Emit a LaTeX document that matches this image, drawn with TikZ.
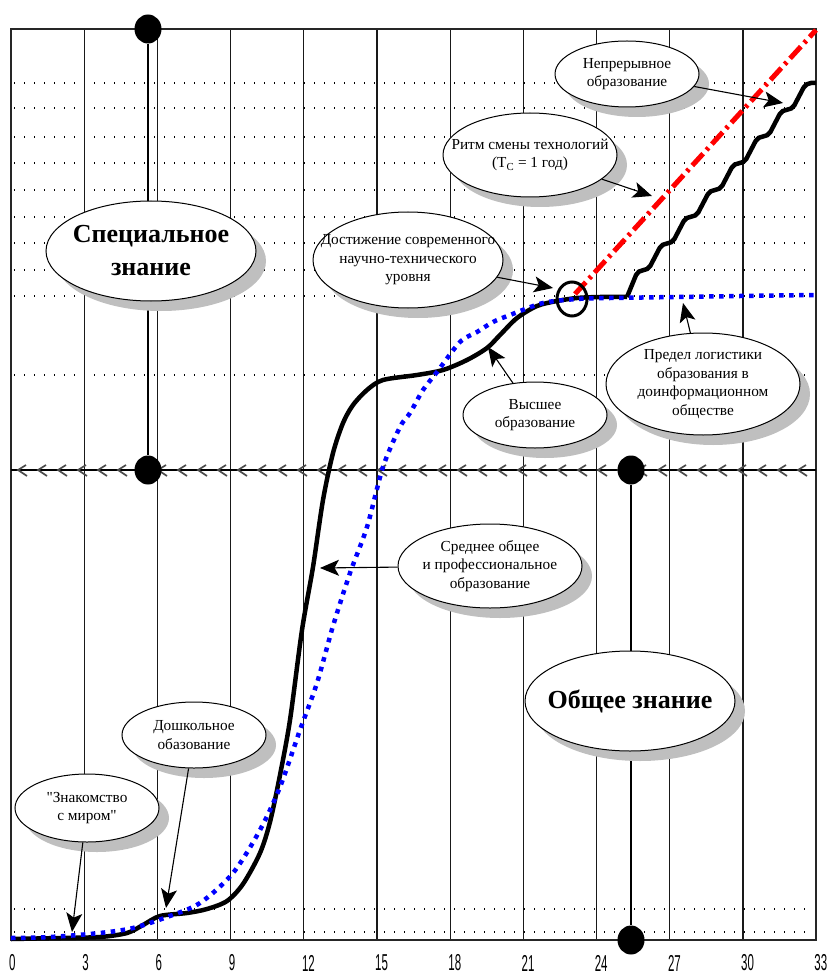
\documentclass[tikz,border=0pt]{standalone}
\usepackage{fontspec}
\setmainfont{Liberation Serif}
\newfontfamily\axisfont[FakeStretch=0.5]{Liberation Sans}
\usetikzlibrary{shapes.geometric,shadows,arrows.meta}

\tikzset{
  gridline/.style={line width=1.3pt, black!90},
  dotline/.style={line width=1.2pt, dash pattern=on 1.2pt off 8.8pt},
  bubble/.style={ellipse, draw, line width=1pt, fill=white, inner sep=0pt,
    drop shadow={shadow xshift=10pt, shadow yshift=-10pt, opacity=1, fill=black!25}},
  note/.style={font=\fontsize{15.3}{18.5}\selectfont, align=center, inner sep=0pt},
  big/.style={font=\fontsize{26}{33}\selectfont\bfseries, align=center, inner sep=0pt},
  pointer/.style={-{Stealth[length=19pt,width=16pt,inset=4.5pt]}, line width=1.1pt},
  blob/.style={ellipse, fill=black, inner sep=0pt, minimum width=27pt, minimum height=29pt},
  ticklabel/.style={font=\axisfont\fontsize{23}{23}\selectfont, anchor=west, inner sep=0pt}
}

\begin{document}
\begin{tikzpicture}[x=1pt,y=-1pt]
  \useasboundingbox (0,0) rectangle (829,976);

  \foreach \y in {83,108,137,163,190,217,243,270,296,375,909,932}
    \draw[dotline] (14,\y) -- (810,\y);
  \foreach \t in {3,6,...,30}
    \draw[gridline] ({11+24.4*\t},29) -- ({11+24.4*\t},940);
  \draw[line width=1.6pt, black!85] (11,29) rectangle (816,940);
  \foreach \t in {0,3,...,33}
    \node[ticklabel] at ({9+24.4*\t},963) {\t};

  \draw[line width=1.2pt] (11,470) -- (816,470);
  \foreach \k in {0,...,39}
    \draw[line width=1.7pt, black!70] ({26+20*\k},465) -- ({18+20*\k},470) -- ({27+20*\k},476);

  \draw[line width=4.5pt, line join=round] plot[smooth] coordinates {
    (11,939) (60,938) (100,937) (127,933) (143,925) (160,916) (187,913)
    (207,909) (227,901) (243,884) (260,853) (270,822) (280,775) (290,720)
    (302,630) (313,567) (323,500) (333,453) (343,423) (353,405) (367,390)
    (383,380) (417,375) (443,370) (467,360) (487,348) (500,335) (517,318)
    (537,306) (557,301) (577,298) (600,297) (627,297)};
  \draw[line width=4.5pt, rounded corners=5pt] (627,297)
    foreach \k in {1,...,8} { -- ({614+24*\k},{297-26.75*\k}) -- ({624+24*\k},{297-26.75*\k}) };
  \draw[blue, line width=4.5pt, dash pattern=on 4.5pt off 5.5pt] plot[smooth] coordinates {
    (11,938) (50,937) (100,933) (133,928) (167,917) (200,903) (233,873)
    (260,830) (280,787) (300,730) (317,683) (333,626) (350,573) (367,527)
    (383,467) (400,427) (410,413) (423,390) (437,372) (460,342) (477,332)
    (493,322) (510,315) (543,303) (577,299) (610,298) (677,297) (740,296) (815,295)};
  \draw[red, line width=5pt, dash pattern=on 16pt off 5pt on 3pt off 5pt] (575,294) -- (816,30);
  \node[draw, ellipse, line width=3pt, minimum width=30pt, minimum height=34pt, inner sep=0pt] (reach) at (572,299) {};

  \node[blob] (spectop) at (148,29) {};
  \node[blob] (specbot) at (148,470) {};
  \node[blob] (gentop) at (631,470) {};
  \node[blob] (genbot) at (631,940) {};
  \draw[line width=1.2pt] (spectop) -- (specbot);
  \draw[line width=1.2pt] (gentop) -- (genbot);

  \node[bubble, minimum width=210pt, minimum height=100pt,
    label={[big]center:{Специальное\\знание}}] (spec) at (151,251) {};
  \node[bubble, minimum width=210pt, minimum height=100pt,
    label={[big]center:{Общее знание}}] (gen) at (630,701) {};
  \node[bubble, minimum width=190pt, minimum height=96pt,
    label={[note]center:{Достижение современного\\научно-технического\\уровня}}] (dost) at (408,260) {};
  \node[bubble, minimum width=144pt, minimum height=66pt,
    label={[note]center:{Непрерывное\\образование}}] (nepr) at (627,74) {};
  \node[bubble, minimum width=174pt, minimum height=84pt,
    label={[note]center:{Ритм смены технологий\\(T\textsubscript{C} = 1 год)}}] (ritm) at (530,155) {};
  \node[bubble, minimum width=144pt, minimum height=66pt,
    label={[note]center:{Высшее\\образование}}] (vyssh) at (535,415) {};
  \node[bubble, minimum width=194pt, minimum height=102pt,
    label={[note]center:{Предел логистики\\образования в\\доинформационном\\обществе}}] (predel) at (703,384) {};
  \node[bubble, minimum width=184pt, minimum height=84pt,
    label={[note]center:{Среднее общее\\и профессиональное\\образование}}] (sredn) at (490,566) {};
  \node[bubble, minimum width=144pt, minimum height=66pt,
    label={[note]center:{Дошкольное\\обазование}}] (dosh) at (194,735) {};
  \node[bubble, minimum width=144pt, minimum height=68pt,
    label={[note]center:{\textquotedbl Знакомство\\с миром\textquotedbl}}] (znak) at (87,808) {};

  \coordinate (dost tip) at (553,288);
  \coordinate (nepr tip) at (783,103);
  \coordinate (ritm tip) at (652,196);
  \coordinate (vyssh tip) at (488,347);
  \coordinate (predel tip) at (683,303);
  \coordinate (sredn tip) at (320,568);
  \coordinate (dosh tip) at (166,908);
  \coordinate (znak tip) at (72,932);
  \foreach \b in {dost,nepr,ritm,vyssh,predel,sredn,dosh,znak}
    \draw[pointer] (\b) -- (\b\space tip);
\end{tikzpicture}
\end{document}
